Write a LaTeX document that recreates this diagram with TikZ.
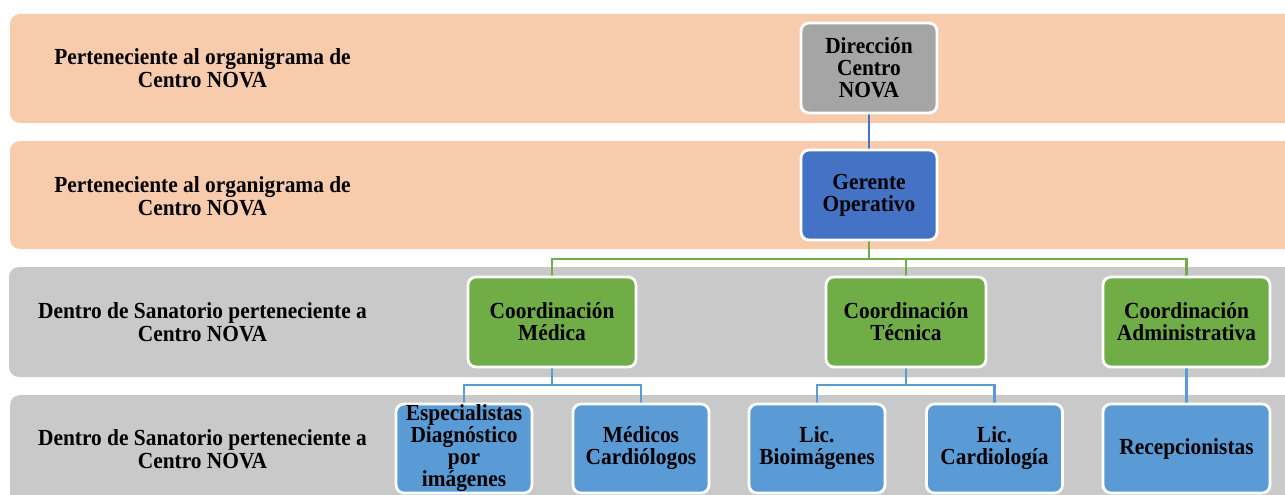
\documentclass[tikz,border=0pt]{standalone}
\usepackage{fontspec}
\setmainfont{Liberation Serif}[FakeStretch=0.93]
\usetikzlibrary{calc}
\definecolor{peach}{HTML}{F8CBAD}
\definecolor{bandgray}{HTML}{C9C9C9}
\definecolor{boxgray}{HTML}{A5A5A5}
\definecolor{darkblue}{HTML}{4472C4}
\definecolor{orggreen}{HTML}{70AD47}
\definecolor{lightblue}{HTML}{5B9BD5}
\pgfdeclarelayer{bandlayer}
\pgfdeclarelayer{linelayer}
\pgfsetlayers{bandlayer,linelayer,main}
\begin{document}
\begin{tikzpicture}[x=1pt,y=-1pt,
  txt/.style={font=\bfseries\fontsize{23}{22}\selectfont, align=center, text=black},
  bandtxt/.style={txt, font=\bfseries\fontsize{23}{23}\selectfont},
  orgbox/.style={txt, rectangle, rounded corners=8pt, draw=white, line width=2.8pt,
    inner sep=0pt, minimum height=90pt},
  conn/.style={line width=2.8pt},
]
\clip (0,0) rectangle (1285,495);
\useasboundingbox (0,0) rectangle (1285,495);
\begin{pgfonlayer}{bandlayer}
  \fill[peach, rounded corners=10pt] (10,14) rectangle (1310,123);
  \fill[peach, rounded corners=10pt] (10,141) rectangle (1310,249);
  \fill[bandgray, rounded corners=10pt] (9,267) rectangle (1310,377);
  \fill[bandgray, rounded corners=10pt] (10,395) rectangle (1310,530);
\end{pgfonlayer}
\node[bandtxt] (l1) at (202.5,68) {Perteneciente al organigrama de\\Centro NOVA};
\node[bandtxt] (l2) at (202.5,196) {Perteneciente al organigrama de\\Centro NOVA};
\node[bandtxt] (l3) at (202.5,322) {Dentro de Sanatorio perteneciente a\\Centro NOVA};
\node[bandtxt] (l4) at (202.5,449) {Dentro de Sanatorio perteneciente a\\Centro NOVA};

\node[orgbox, fill=boxgray, minimum width=136pt] (dir) at (869,68) {Dirección\\Centro\\NOVA};
\node[orgbox, fill=darkblue, minimum width=136pt] (ger) at (869,195) {Gerente\\Operativo};
\node[orgbox, fill=orggreen, minimum width=168pt] (cm) at (552,322) {Coordinación\\Médica};
\node[orgbox, fill=orggreen, minimum width=160pt] (ct) at (906,322) {Coordinación\\Técnica};
\node[orgbox, fill=orggreen, minimum width=167pt] (ca) at (1186.5,322) {Coordinación\\Administrativa};
\node[orgbox, fill=lightblue, minimum width=136pt, minimum height=89pt] (esp) at (464,448.5) {Especialistas\\Diagnóstico\\por\\imágenes};
\node[orgbox, fill=lightblue, minimum width=136pt, minimum height=89pt] (med) at (641,448.5) {Médicos\\Cardiólogos};
\node[orgbox, fill=lightblue, minimum width=136pt, minimum height=89pt] (bio) at (817,448.5) {Lic.\\Bioimágenes};
\node[orgbox, fill=lightblue, minimum width=136pt, minimum height=89pt] (card) at (994.5,448.5) {Lic.\\Cardiología};
\node[orgbox, fill=lightblue, minimum width=167pt, minimum height=89pt] (rec) at (1186.5,448.5) {Recepcionistas};

\coordinate (gj) at (869,259);
\coordinate (mj) at (552,385);
\coordinate (tj) at (906,385);
\begin{pgfonlayer}{linelayer}
  \draw[conn, darkblue] (dir.south) -- (ger.north);
  \draw[conn, orggreen] (ger.south) -- (gj) -| (cm.north);
  \draw[conn, orggreen] (gj) -| (ct.north);
  \draw[conn, orggreen] (gj) -| (ca.north);
  \draw[conn, lightblue] (cm.south) -- (mj) -| (esp.north);
  \draw[conn, lightblue] (mj) -| (med.north);
  \draw[conn, lightblue] (ct.south) -- (tj) -| (bio.north);
  \draw[conn, lightblue] (tj) -| (card.north);
  \draw[conn, lightblue] (ca.south) -- (rec.north);
\end{pgfonlayer}
\end{tikzpicture}
\end{document}
